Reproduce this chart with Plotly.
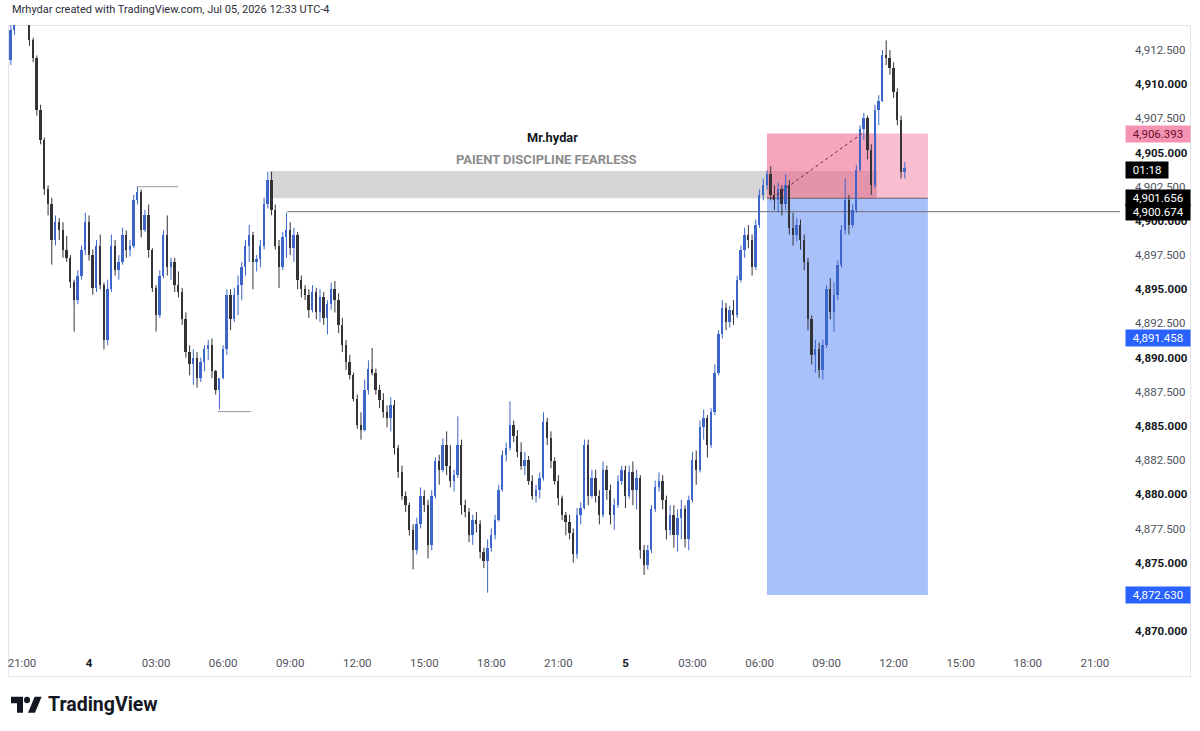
import plotly.graph_objects as go
import pandas as pd

# ---------------- data (10-minute candles) ----------------
CANDLE_START = "2026-07-03 20:30"
CANDLE_STEP = "10min"

OPEN = [
    4911.8, 4914.0, 4915.1, 4915.4, 4915.3, 4914.8, 4913.2, 4911.9, 4908.1, 4905.9,
    4902.3, 4901.2, 4898.6, 4899.9, 4899.3, 4897.9, 4897.3, 4895.5, 4894.2, 4896.0,
    4897.9, 4899.9, 4897.5, 4895.1, 4898.2, 4895.3, 4891.3, 4895.0, 4898.2, 4896.4,
    4897.0, 4899.0, 4897.9, 4898.2, 4901.5, 4902.1, 4899.3, 4900.4, 4897.9, 4895.1,
    4893.1, 4896.0, 4899.0, 4896.6, 4897.0, 4895.3, 4894.8, 4892.8, 4890.4, 4889.5,
    4890.0, 4888.5, 4889.7, 4890.6, 4890.9, 4889.0, 4887.6, 4888.5, 4890.6, 4894.6,
    4892.8, 4894.6, 4895.3, 4896.6, 4898.2, 4899.0, 4897.0, 4897.2, 4898.2, 4901.2,
    4903.0, 4900.8, 4898.2, 4896.6, 4898.8, 4899.3, 4898.0, 4899.0, 4895.7, 4895.0,
    4894.6, 4893.5, 4894.8, 4893.3, 4894.4, 4892.9, 4893.9, 4895.0, 4894.2, 4892.4,
    4890.9, 4889.7, 4888.7, 4887.0, 4885.1, 4884.7, 4887.6, 4889.2, 4888.9, 4887.6,
    4886.9, 4886.0, 4885.6, 4886.5, 4883.4, 4881.6, 4879.9, 4879.2, 4877.4, 4875.9,
    4877.8, 4879.9, 4879.2, 4876.3, 4879.9, 4882.4, 4881.8, 4883.6, 4882.1, 4881.0,
    4881.4, 4883.6, 4879.2, 4878.7, 4877.0, 4878.1, 4877.8, 4875.8, 4875.1, 4876.1,
    4877.0, 4878.1, 4880.3, 4882.9, 4883.4, 4885.1, 4884.3, 4883.1, 4882.1, 4882.5,
    4881.0, 4879.9, 4880.3, 4881.2, 4885.3, 4884.1, 4882.4, 4881.0, 4879.7, 4878.5,
    4878.0, 4877.2, 4875.6, 4878.5, 4879.0, 4883.6, 4879.9, 4881.2, 4879.9, 4878.5,
    4881.8, 4880.3, 4878.5, 4879.2, 4881.0, 4881.8, 4879.9, 4881.6, 4880.3, 4881.2,
    4875.9, 4874.8, 4875.9, 4878.9, 4880.5, 4881.0, 4879.6, 4877.4, 4878.5, 4877.0,
    4878.3, 4878.9, 4876.7, 4879.6, 4882.5, 4881.8, 4884.9, 4885.6, 4883.6, 4886.0,
    4888.9, 4891.7, 4893.6, 4892.6, 4893.5, 4893.1, 4895.7, 4897.9, 4899.0, 4898.6,
    4896.6, 4899.7, 4901.9, 4902.6, 4903.4, 4901.9, 4901.5, 4902.3, 4901.2, 4902.6,
    4899.5, 4899.0, 4899.7, 4898.6, 4897.0, 4892.8, 4890.2, 4890.6, 4889.1, 4890.9,
    4895.0, 4893.3, 4894.6, 4896.8, 4899.3, 4901.5, 4899.7, 4900.8, 4903.7, 4906.7,
    4907.5, 4905.2, 4902.6, 4908.1, 4908.8, 4912.1, 4911.9, 4911.2, 4909.4, 4907.4,
    4903.6,
]
HIGH = [
    4915.1, 4915.4, 4915.8, 4916.2, 4915.9, 4915.0, 4913.4, 4912.1, 4908.5, 4906.1,
    4902.6, 4901.7, 4900.4, 4900.2, 4899.9, 4898.9, 4897.5, 4895.7, 4896.4, 4898.2,
    4900.6, 4900.4, 4897.9, 4898.6, 4899.0, 4895.5, 4895.7, 4899.0, 4898.6, 4897.5,
    4899.5, 4899.3, 4898.6, 4901.9, 4902.5, 4902.3, 4900.8, 4901.2, 4898.0, 4895.3,
    4896.4, 4899.3, 4900.4, 4897.3, 4897.3, 4896.3, 4895.1, 4893.3, 4890.9, 4890.6,
    4890.4, 4890.0, 4890.9, 4891.3, 4891.4, 4889.1, 4888.5, 4890.9, 4895.0, 4895.0,
    4895.1, 4896.0, 4897.0, 4898.6, 4899.7, 4899.2, 4897.5, 4898.6, 4901.7, 4903.6,
    4903.6, 4901.2, 4898.6, 4899.2, 4900.6, 4899.9, 4899.5, 4899.2, 4896.0, 4895.3,
    4895.0, 4895.3, 4895.1, 4895.0, 4894.8, 4894.2, 4895.5, 4895.6, 4894.7, 4892.9,
    4891.3, 4890.2, 4888.9, 4887.3, 4886.0, 4888.4, 4889.8, 4890.7, 4889.2, 4888.0,
    4887.4, 4886.5, 4887.1, 4886.9, 4883.6, 4882.1, 4880.2, 4879.4, 4877.8, 4878.3,
    4880.5, 4880.3, 4879.6, 4880.3, 4882.7, 4882.9, 4884.1, 4884.6, 4883.6, 4881.8,
    4885.7, 4884.0, 4879.6, 4879.0, 4878.5, 4878.7, 4878.1, 4876.1, 4876.7, 4877.5,
    4878.5, 4880.7, 4883.2, 4883.8, 4886.8, 4885.4, 4884.7, 4883.8, 4883.1, 4882.8,
    4881.4, 4880.7, 4881.6, 4886.0, 4885.6, 4884.6, 4882.7, 4881.4, 4879.9, 4878.7,
    4878.5, 4877.5, 4879.0, 4879.4, 4884.0, 4884.0, 4881.8, 4881.8, 4880.3, 4882.4,
    4882.1, 4880.7, 4879.7, 4881.4, 4882.1, 4882.1, 4882.1, 4882.4, 4881.8, 4881.4,
    4876.3, 4876.3, 4879.2, 4881.0, 4881.6, 4881.4, 4879.9, 4879.2, 4879.2, 4878.9,
    4879.6, 4879.2, 4879.9, 4883.1, 4883.2, 4885.4, 4886.2, 4885.8, 4886.3, 4889.5,
    4892.0, 4894.2, 4894.0, 4893.8, 4894.2, 4896.0, 4898.2, 4899.5, 4899.7, 4899.0,
    4900.1, 4902.3, 4903.1, 4903.7, 4904.0, 4902.6, 4902.8, 4902.6, 4903.4, 4903.0,
    4900.6, 4900.2, 4900.1, 4899.0, 4897.3, 4893.1, 4891.3, 4891.1, 4891.3, 4895.3,
    4895.8, 4895.5, 4897.1, 4899.7, 4903.1, 4901.9, 4901.2, 4904.1, 4907.0, 4907.9,
    4907.7, 4905.6, 4908.5, 4909.2, 4912.5, 4913.2, 4912.5, 4911.6, 4909.7, 4907.7,
    4904.3,
]
LOW = [
    4911.4, 4913.6, 4914.7, 4914.8, 4914.7, 4912.8, 4911.6, 4907.7, 4905.6, 4901.9,
    4900.4, 4896.8, 4898.2, 4898.6, 4897.3, 4897.0, 4895.1, 4891.9, 4893.9, 4895.7,
    4897.5, 4897.1, 4894.6, 4894.8, 4895.0, 4890.6, 4890.9, 4894.8, 4896.0, 4895.7,
    4896.8, 4897.3, 4897.4, 4898.0, 4901.2, 4898.8, 4899.2, 4897.3, 4894.8, 4891.9,
    4892.9, 4895.8, 4896.0, 4895.7, 4894.8, 4894.4, 4892.4, 4890.0, 4888.7, 4888.0,
    4887.8, 4888.2, 4889.0, 4889.8, 4888.5, 4887.3, 4886.2, 4888.4, 4890.2, 4892.0,
    4892.6, 4893.1, 4894.2, 4896.0, 4897.0, 4895.0, 4896.3, 4896.6, 4897.9, 4900.9,
    4900.4, 4897.9, 4895.1, 4896.4, 4897.3, 4897.5, 4897.0, 4895.0, 4894.4, 4894.2,
    4892.9, 4893.3, 4892.8, 4892.6, 4892.4, 4891.7, 4893.5, 4893.3, 4891.8, 4890.4,
    4889.1, 4888.4, 4886.8, 4884.8, 4884.0, 4884.6, 4887.3, 4888.7, 4887.3, 4886.3,
    4885.6, 4884.9, 4884.6, 4882.9, 4881.2, 4879.6, 4878.7, 4877.0, 4874.5, 4875.6,
    4877.5, 4878.7, 4875.3, 4875.9, 4879.7, 4880.7, 4881.6, 4881.4, 4880.5, 4880.2,
    4881.2, 4878.5, 4878.3, 4876.5, 4876.3, 4877.2, 4875.3, 4874.6, 4872.8, 4875.8,
    4876.7, 4878.0, 4880.2, 4882.4, 4883.2, 4883.8, 4882.7, 4881.8, 4881.4, 4880.7,
    4879.6, 4879.4, 4879.7, 4881.0, 4883.6, 4881.9, 4880.7, 4879.2, 4878.1, 4877.0,
    4876.7, 4875.0, 4875.3, 4877.8, 4878.9, 4879.2, 4879.7, 4879.4, 4877.8, 4878.3,
    4879.6, 4877.8, 4877.4, 4879.0, 4880.7, 4879.0, 4879.7, 4879.2, 4878.9, 4875.3,
    4874.1, 4874.5, 4875.7, 4878.7, 4880.2, 4878.9, 4876.7, 4877.0, 4876.1, 4875.8,
    4876.7, 4876.1, 4875.9, 4879.4, 4880.7, 4881.6, 4884.0, 4882.7, 4883.4, 4885.8,
    4888.7, 4891.4, 4892.0, 4892.2, 4892.4, 4892.9, 4895.5, 4897.3, 4898.0, 4896.0,
    4896.4, 4899.5, 4901.5, 4902.3, 4901.5, 4900.8, 4900.6, 4900.4, 4900.8, 4899.0,
    4898.2, 4898.5, 4897.9, 4896.4, 4892.0, 4889.5, 4888.9, 4888.5, 4888.4, 4890.7,
    4892.8, 4891.9, 4894.2, 4896.6, 4899.0, 4899.0, 4899.5, 4900.6, 4903.6, 4905.9,
    4904.5, 4901.9, 4902.4, 4907.0, 4908.7, 4911.4, 4910.7, 4909.0, 4907.0, 4903.1,
    4903.1,
]
CLOSE = [
    4914.0, 4915.1, 4915.4, 4915.3, 4914.8, 4913.2, 4911.9, 4908.1, 4905.9, 4902.3,
    4901.2, 4898.6, 4899.9, 4899.3, 4897.9, 4897.3, 4895.5, 4894.2, 4896.0, 4897.9,
    4899.9, 4897.5, 4895.1, 4898.2, 4895.3, 4891.3, 4895.0, 4898.2, 4896.4, 4897.0,
    4899.0, 4897.9, 4898.2, 4901.5, 4902.1, 4899.3, 4900.4, 4897.9, 4895.1, 4893.1,
    4896.0, 4899.0, 4896.6, 4897.0, 4895.3, 4894.8, 4892.8, 4890.4, 4889.5, 4890.0,
    4888.5, 4889.7, 4890.6, 4890.9, 4889.0, 4887.6, 4888.5, 4890.6, 4894.6, 4892.8,
    4894.6, 4895.3, 4896.6, 4898.2, 4899.0, 4897.0, 4897.2, 4898.2, 4901.2, 4903.0,
    4900.8, 4898.2, 4896.6, 4898.8, 4899.3, 4898.0, 4899.0, 4895.7, 4895.0, 4894.6,
    4893.5, 4894.8, 4893.3, 4894.4, 4892.9, 4893.9, 4895.0, 4894.2, 4892.4, 4890.9,
    4889.7, 4888.7, 4887.0, 4885.1, 4884.7, 4887.6, 4889.2, 4888.9, 4887.6, 4886.9,
    4886.0, 4885.6, 4886.5, 4883.4, 4881.6, 4879.9, 4879.2, 4877.4, 4875.9, 4877.8,
    4879.9, 4879.2, 4876.3, 4879.9, 4882.4, 4881.8, 4883.6, 4882.1, 4881.0, 4881.4,
    4883.6, 4879.2, 4878.7, 4877.0, 4878.1, 4877.8, 4875.8, 4875.1, 4876.1, 4877.0,
    4878.1, 4880.3, 4882.9, 4883.4, 4885.1, 4884.3, 4883.1, 4882.1, 4882.5, 4881.0,
    4879.9, 4880.3, 4881.2, 4885.3, 4884.1, 4882.4, 4881.0, 4879.7, 4878.5, 4878.0,
    4877.2, 4875.6, 4878.5, 4879.0, 4883.6, 4879.9, 4881.2, 4879.9, 4878.5, 4881.8,
    4880.3, 4878.5, 4879.2, 4881.0, 4881.8, 4879.9, 4881.6, 4880.3, 4881.2, 4875.9,
    4874.8, 4875.9, 4878.9, 4880.5, 4881.0, 4879.6, 4877.4, 4878.5, 4877.0, 4878.3,
    4878.9, 4876.7, 4879.6, 4882.5, 4881.8, 4884.9, 4885.6, 4883.6, 4886.0, 4888.9,
    4891.7, 4893.6, 4892.6, 4893.5, 4893.1, 4895.7, 4897.9, 4899.0, 4898.6, 4896.6,
    4899.7, 4901.9, 4902.6, 4903.4, 4901.9, 4901.5, 4902.3, 4901.2, 4902.6, 4899.5,
    4899.0, 4899.7, 4898.6, 4897.0, 4892.8, 4890.2, 4890.6, 4889.1, 4890.9, 4895.0,
    4893.3, 4894.6, 4896.8, 4899.3, 4901.5, 4899.7, 4900.8, 4903.7, 4906.7, 4907.5,
    4905.2, 4902.6, 4908.1, 4908.8, 4912.1, 4911.9, 4911.2, 4909.4, 4907.4, 4903.6,
    4903.9,
]

# axis ticks
X_TICK_TIMES = [
    "2026-07-03 21:00", "2026-07-04 00:00", "2026-07-04 03:00", "2026-07-04 06:00",
    "2026-07-04 09:00", "2026-07-04 12:00", "2026-07-04 15:00", "2026-07-04 18:00",
    "2026-07-04 21:00", "2026-07-05 00:00", "2026-07-05 03:00", "2026-07-05 06:00",
    "2026-07-05 09:00", "2026-07-05 12:00", "2026-07-05 15:00", "2026-07-05 18:00",
    "2026-07-05 21:00",
]
X_TICK_LABELS = ["21:00", "4", "03:00", "06:00", "09:00", "12:00", "15:00", "18:00",
                 "21:00", "5", "03:00", "06:00", "09:00", "12:00", "15:00", "18:00", "21:00"]
# 4,872.500 sits fully under the target price label in the reference, so it is not listed
Y_TICK_VALUES = [4870.0, 4875.0, 4877.5, 4880.0, 4882.5, 4885.0, 4887.5, 4890.0,
                 4892.5, 4895.0, 4897.5, 4900.0, 4902.5, 4905.0, 4907.5, 4910.0, 4912.5]

# drawing-tool levels
ZONE_TOP, ZONE_BOTTOM = 4903.65, 4901.656
ENTRY, STOP, TARGET = 4901.656, 4906.393, 4872.630
RAY_LEVEL = 4900.674
BLUE_LEVEL = 4891.458
HIGH_MARK, LOW_MARK = 4902.5, 4886.05
LAST_PRICE = 4903.72
COUNTDOWN = "01:18"

X_RANGE = ["2026-07-03 20:22:26", "2026-07-05 22:07:40"]
Y_RANGE = [4868.61, 4914.33]

# ---------------- figure ----------------
n = min(len(OPEN), len(HIGH), len(LOW), len(CLOSE))
times = pd.date_range(CANDLE_START, periods=n, freq=CANDLE_STEP)

UP = "#3d66c9"
DOWN = "#333338"

fig = go.Figure()
for is_up, col in ((True, UP), (False, DOWN)):
    bx, bbase, bh, wx, wy = [], [], [], [], []
    for i in range(n):
        o, h, l, c = OPEN[i], HIGH[i], LOW[i], CLOSE[i]
        if (c >= o) != is_up:
            continue
        bx.append(times[i])
        bbase.append(min(o, c))
        bh.append(max(abs(c - o), 0.06))
        wx += [times[i], times[i], None]
        wy += [l, h, None]
    fig.add_trace(go.Scatter(x=wx, y=wy, mode="lines", line=dict(color=col, width=1),
                             hoverinfo="skip", showlegend=False))
    fig.add_trace(go.Bar(x=bx, y=bh, base=bbase, width=300000, marker=dict(color=col, line=dict(width=0)),
                         hoverinfo="skip", showlegend=False))

W, H = 1200, 731
ML, MR, MT, MB = 8, 80, 25, 81
PW, PH = W - ML - MR, H - MT - MB


def fx(px):
    return (px - ML) / PW


def fy(py):
    return (H - MB - py) / PH


shapes = []
# gray zone
shapes.append(dict(type="rect", xref="x", yref="y", x0="2026-07-04 08:05", x1="2026-07-05 11:15",
                   y0=ZONE_BOTTOM, y1=ZONE_TOP, fillcolor="#d6d6d6", line=dict(width=0), layer="below"))
# position tool: stop (pink) and target (blue)
shapes.append(dict(type="rect", xref="x", yref="y", x0="2026-07-05 06:20", x1="2026-07-05 13:32",
                   y0=ENTRY, y1=STOP, fillcolor="rgba(240,110,150,0.45)", line=dict(width=0), layer="below"))
shapes.append(dict(type="rect", xref="x", yref="y", x0="2026-07-05 06:20", x1="2026-07-05 11:15",
                   y0=ENTRY, y1=STOP, fillcolor="rgba(235,80,120,0.22)", line=dict(width=0), layer="below"))
shapes.append(dict(type="rect", xref="x", yref="y", x0="2026-07-05 06:20", x1="2026-07-05 13:32",
                   y0=TARGET, y1=ENTRY, fillcolor="#a9c1fa", line=dict(width=0), layer="below"))
shapes.append(dict(type="line", xref="x", yref="y", x0="2026-07-05 06:20", x1="2026-07-05 13:32",
                   y0=ENTRY, y1=ENTRY, line=dict(color="#6b5a60", width=1), layer="below"))
shapes.append(dict(type="line", xref="x", yref="y", x0="2026-07-05 06:33", x1="2026-07-05 10:35",
                   y0=ENTRY, y1=STOP, line=dict(color="#7a2036", width=1, dash="3px,3px"), layer="above"))
# horizontal ray
shapes.append(dict(type="line", xref="x", yref="y", x0="2026-07-04 08:52", x1=X_RANGE[1],
                   y0=RAY_LEVEL, y1=RAY_LEVEL, line=dict(color="#6e6e6e", width=1), layer="below"))
# short high / low markers
shapes.append(dict(type="line", xref="x", yref="y", x0="2026-07-04 02:09", x1="2026-07-04 03:59",
                   y0=HIGH_MARK, y1=HIGH_MARK, line=dict(color="#9a9a9a", width=1), layer="below"))
shapes.append(dict(type="line", xref="x", yref="y", x0="2026-07-04 05:46", x1="2026-07-04 07:15",
                   y0=LOW_MARK, y1=LOW_MARK, line=dict(color="#9a9a9a", width=1), layer="below"))
# outer frame
shapes.append(dict(type="rect", xref="paper", yref="paper", x0=fx(8.5), x1=fx(1190.5), y0=fy(676.5), y1=fy(25.5),
                   line=dict(color="#e3e5ea", width=1), fillcolor="rgba(0,0,0,0)", layer="below"))


# TradingView logo (bottom-left)
def lp(vx, vy):
    return f"{fx(9 + vx):.5f},{fy(690.3 + 1.07 * vy):.5f}"


logo_t = "M" + " L".join(lp(a, b) for a, b in [(2, 6), (14, 6), (14, 21), (8, 21), (8, 12), (2, 12)]) + " Z"
logo_s = "M" + " L".join(lp(a, b) for a, b in [(26, 21), (19, 21), (25.65, 6), (32.65, 6)]) + " Z"
for p in (logo_t, logo_s):
    shapes.append(dict(type="path", xref="paper", yref="paper", path=p, fillcolor="#131722",
                       line=dict(width=0)))
shapes.append(dict(type="circle", xref="paper", yref="paper", x0=fx(9 + 15), x1=fx(9 + 21),
                   y0=fy(690.3 + 1.07 * 12), y1=fy(690.3 + 1.07 * 6), fillcolor="#131722", line=dict(width=0)))

FONT = "Roboto"
ann = []
ann.append(dict(xref="paper", yref="paper", x=fx(10), y=fy(10), xanchor="left", yanchor="middle",
                text="Mrhydar created with TradingView.com, Jul 05, 2026 12:33 UTC-4", showarrow=False,
                font=dict(family=FONT, size=11, color="#2a2e39")))
ann.append(dict(xref="paper", yref="paper", x=fx(46), y=fy(704), xanchor="left", yanchor="middle",
                text="<b>TradingView</b>", showarrow=False,
                font=dict(family=FONT, size=19.5, color="#131722")))
ann.append(dict(xref="x", yref="y", x="2026-07-04 20:45", y=4906.1, text="<b>Mr.hydar</b>", showarrow=False,
                font=dict(family=FONT, size=12.8, color="#131722")))
ann.append(dict(xref="x", yref="y", x="2026-07-04 20:27", y=4904.5, text="<b>PAIENT DISCIPLINE FEARLESS</b>",
                showarrow=False, font=dict(family=FONT, size=13, color="#8c8c8c")))

NB = "\u00a0"


def price_label(val, text, bg, fg):
    ann.append(dict(xref="paper", yref="y", x=fx(1125), y=val, xanchor="left", yanchor="middle",
                    text=NB * 2 + text + NB * 2, showarrow=False, bgcolor=bg, borderpad=1,
                    font=dict(family=FONT, size=11.5, color=fg)))


def fmt(v):
    return f"{v:,.3f}"


price_label(STOP, fmt(STOP), "#f493b2", "#6e0f2c")
price_label(LAST_PRICE, COUNTDOWN, "#000000", "#ffffff")
price_label(ENTRY, fmt(ENTRY), "#000000", "#ffffff")
price_label(RAY_LEVEL, fmt(RAY_LEVEL), "#000000", "#ffffff")
price_label(BLUE_LEVEL, fmt(BLUE_LEVEL), "#2962ff", "#ffffff")
price_label(TARGET, fmt(TARGET), "#2962ff", "#ffffff")

y_text = []
for v in Y_TICK_VALUES:
    s = fmt(v)
    if abs(v / 5 - round(v / 5)) < 1e-9:
        s = f"<span style='color:#131722'><b>{s}</b></span>"
    y_text.append(s)
x_text = [f"<span style='color:#131722'><b>{t}</b></span>" if len(t) < 3 else t for t in X_TICK_LABELS]

fig.update_layout(
    width=W, height=H, margin=dict(l=ML, r=MR, t=MT, b=MB),
    paper_bgcolor="white", plot_bgcolor="white",
    barmode="overlay", bargap=0, showlegend=False,
    shapes=shapes, annotations=ann,
    font=dict(family=FONT),
    xaxis=dict(type="date", range=X_RANGE, tickvals=X_TICK_TIMES, ticktext=x_text,
               showgrid=False, zeroline=False, showline=False, ticks="",
               tickfont=dict(family=FONT, size=11.5, color="#50535e"), ticklabelstandoff=4,
               fixedrange=True),
    yaxis=dict(side="right", range=Y_RANGE, tickvals=Y_TICK_VALUES, ticktext=y_text,
               showgrid=False, zeroline=False, showline=False, ticks="",
               tickfont=dict(family=FONT, size=11.5, color="#50535e"), ticklabelstandoff=14,
               fixedrange=True),
)

fig.write_html("out.html")
